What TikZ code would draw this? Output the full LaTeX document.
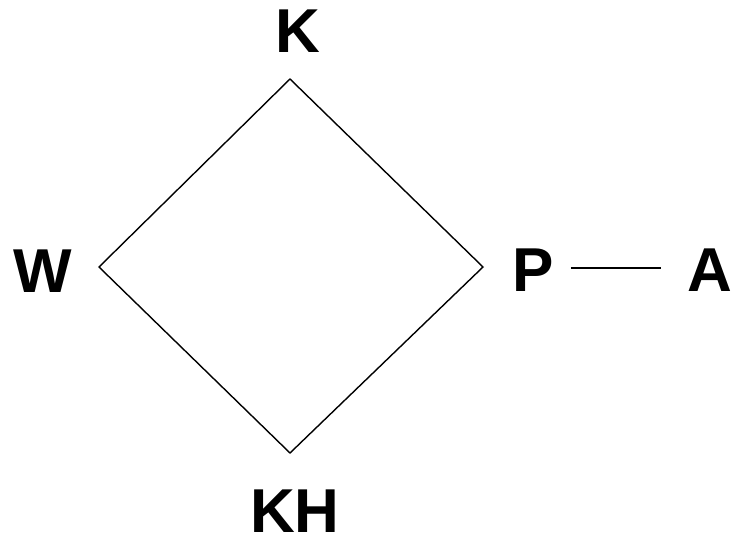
\documentclass[tikz,border=0pt]{standalone}
\usepackage{fontspec}
\usetikzlibrary{calc}
\setmainfont{Liberation Sans}
\begin{document}
\begin{tikzpicture}[x=1pt,y=-1pt,
  lbl/.style={font=\bfseries\fontsize{62}{66}\selectfont, inner sep=0pt, anchor=center},
  edge/.style={line width=1.4pt, black}]
  \useasboundingbox (0,0) rectangle (732,541);
  % diamond corners
  \coordinate (top) at (290,79);
  \coordinate (left) at (99,267);
  \coordinate (right) at (483,267);
  \coordinate (bottom) at (290,453);
  % labels
  \node[lbl] (K) at (298,31) {K};
  \node[lbl] (W) at (43,271) {W};
  \node[lbl] (P) at (533,270) {P};
  \node[lbl] (A) at (710,270) {A};
  \node[lbl] (KH) at (295,511) {KH};
  % diamond
  \draw[edge, line join=miter] (top) -- (right) -- (bottom) -- (left) -- cycle;
  % link from P to A
  \draw[edge] ($(P.east)+(17,-2)$) -- ($(A.west)+(-26,-2)$);
\end{tikzpicture}
\end{document}
